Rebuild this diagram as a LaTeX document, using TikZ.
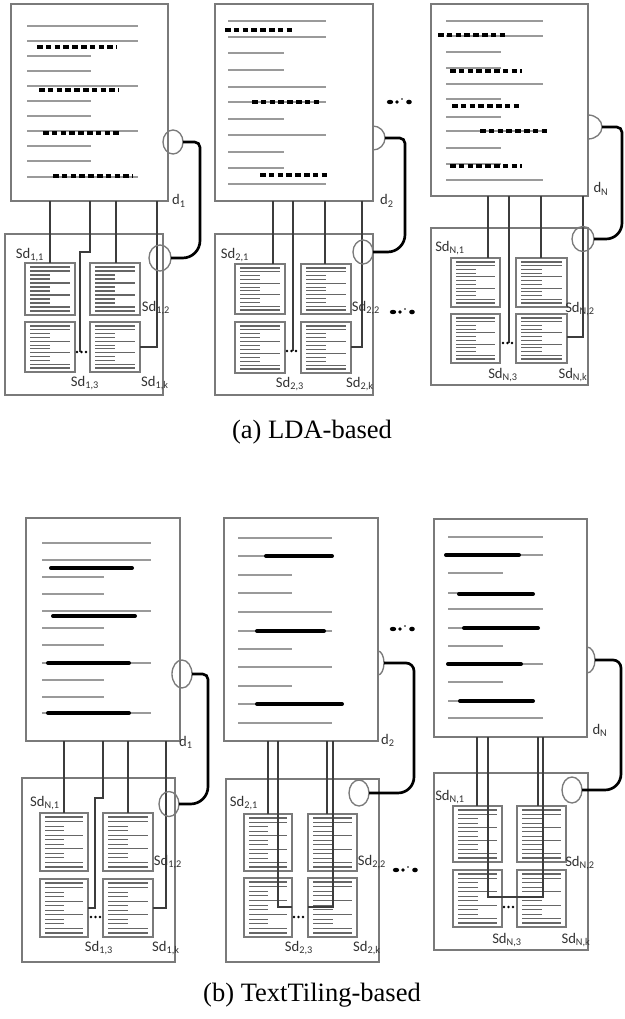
\documentclass[tikz,border=0pt]{standalone}
\usepackage{fontspec}
\setmainfont{Liberation Serif}
\newfontfamily\labfont{Carlito}
\definecolor{bord}{HTML}{7A7A7A}
\definecolor{txtl}{HTML}{9A9A9A}
\definecolor{connc}{HTML}{3C3C3C}
\definecolor{labc}{HTML}{333333}
\tikzset{
  docbox/.style={draw=bord, line width=1.1pt, fill=white},
  subbox/.style={draw=bord, line width=1.1pt},
  minibox/.style={draw=bord, line width=1.3pt},
  txt/.style={draw=txtl, line width=1.15pt},
  minil/.style={draw=gray!80!black, line width=0.85pt},
  dashrow/.style={draw=black, line width=2.4pt, dash pattern=on 4.2pt off 2.4pt},
  bar/.style={draw=black, line width=3pt, line cap=round},
  conn/.style={draw=connc, line width=0.8pt},
  link/.style={draw=black, line width=2pt},
  ring/.style={draw=bord, line width=1pt},
  lab/.style={text=labc, font=\labfont\fontsize{11}{13}\selectfont, inner sep=0pt},
  captext/.style={font=\fontsize{19.9}{24}\selectfont, inner sep=0pt}
}
\newcommand\minidoc[4]{%
  \draw[minibox] (#1,#2) rectangle (#3,#4);
  \foreach \k/\len in {0/1,1/1,2/0.5,3/0.5,4/1,5/0.5,6/0.5,7/1,8/0.5,9/0.5,10/1,11/1}{%
    \pgfmathsetmacro\yy{#2+4+\k*(#4-#2-8)/11}%
    \pgfmathsetmacro\xe{#1+5+\len*(#3-#1-10)}%
    \draw[minil] (#1+5,\yy) -- (\xe,\yy);
  }%
}
\newcommand\ellip[2]{%
  \fill (#1,#2) ellipse [x radius=3.2, y radius=2.2];
  \fill (#1+7,#2) circle [radius=1.9];
  \fill (#1+12,#2-3) circle [radius=0.8];
  \fill (#1+19,#2) ellipse [x radius=2.8, y radius=2.3];
}
\newcommand\tdots[2]{%
  \foreach \d in {0,4.5,9} \fill[black] (#1+\d,#2) circle [radius=1.3];
}
\newcommand\halfc[4]{\draw[ring] (#1,#2-#4) arc[start angle=-90,end angle=90,x radius=#3,y radius=#4];}
\begin{document}
\begin{tikzpicture}[x=0.75pt,y=-0.75pt]
\useasboundingbox[fill=white] (0,0) rectangle (624,1019);

%================ (a) column 1
\draw[docbox] (11,4) rectangle (168,201);
\foreach \y in {26,41,86,131,177} \draw[txt] (27,\y) -- (138,\y);
\foreach \y in {56,71,101,116,146,161} \draw[txt] (27,\y) -- (91,\y);
\draw[dashrow] (37,47) -- (117,47);
\draw[dashrow] (39,90) -- (119,90);
\draw[dashrow] (43,133) -- (122,133);
\draw[dashrow] (53,176) -- (133,176);
\node[lab] (da1) at (179,201) {d\textsubscript{1}};
\draw[subbox] (5,234) rectangle (163,395);
\minidoc{25}{263}{75}{315}
\minidoc{90}{263}{140}{315}
\minidoc{25}{322}{75}{372}
\minidoc{90}{322}{140}{372}
\draw[conn] (50,201) -- (50,263);
\draw[conn] (90,201) -- (90,252) -- (80,252) -- (80,352);
\draw[conn] (116,201) -- (116,263);
\draw[conn] (157,201) -- (157,347) -- (140,347);
\tdots{77}{352}
\draw[ring] (173,142) ellipse [x radius=10, y radius=12];
\draw[ring] (160,258) ellipse [x radius=11, y radius=13];
\draw[link] (183,142) [rounded corners=4pt] -- (200,142) [rounded corners=13pt] -- (200,258) -- (171,258);
\node[lab] at (30,255) {Sd\textsubscript{1,1}};
\node[lab] at (156,308) {Sd\textsubscript{1,2}};
\node[lab] at (85,383) {Sd\textsubscript{1,3}};
\node[lab] at (155,383) {Sd\textsubscript{1,k}};

%================ (a) column 2
\draw[docbox] (215,4) rectangle (373,201);
\foreach \y in {21,37,87,102,135,184} \draw[txt] (228,\y) -- (326,\y);
\foreach \y in {53,70,119,152,168} \draw[txt] (228,\y) -- (284,\y);
\draw[dashrow] (225,30) -- (295,30);
\draw[dashrow] (252,102) -- (320,102);
\draw[dashrow] (260,175) -- (330,175);
\node[lab] (da2) at (387,201) {d\textsubscript{2}};
\draw[subbox] (215,234) rectangle (373,395);
\minidoc{235}{264}{285}{314}
\minidoc{301}{264}{351}{314}
\minidoc{235}{322}{285}{373}
\minidoc{301}{322}{351}{373}
\draw[conn] (273,201) -- (273,264);
\draw[conn] (293,201) -- (293,351);
\draw[conn] (325,201) -- (325,264);
\draw[conn] (362,201) -- (362,347) -- (351,347);
\tdots{287}{351}
\halfc{373}{138}{12}{12}
\draw[ring] (363,252) ellipse [x radius=10, y radius=12];
\draw[link] (385,138) [rounded corners=4pt] -- (405,138) [rounded corners=13pt] -- (405,252) -- (373,252);
\node[lab] at (235,255) {Sd\textsubscript{2,1}};
\node[lab] at (366,308) {Sd\textsubscript{2,2}};
\node[lab] at (290,384) {Sd\textsubscript{2,3}};
\node[lab] at (360,384) {Sd\textsubscript{2,k}};
\ellip{390}{102}
\ellip{393}{312}

%================ (a) column N
\draw[docbox] (431,4) rectangle (588,196);
\foreach \y in {21,36,84,131,180} \draw[txt] (446,\y) -- (543,\y);
\foreach \y in {52,68,99,117,148,164} \draw[txt] (446,\y) -- (501,\y);
\draw[dashrow] (438,35) -- (508,35);
\draw[dashrow] (450,71) -- (522,71);
\draw[dashrow] (452,106) -- (522,106);
\draw[dashrow] (480,131) -- (548,131);
\draw[dashrow] (450,166) -- (522,166);
\node[lab] (daN) at (601,189) {d\textsubscript{N}};
\draw[subbox] (431,228) rectangle (588,385);
\minidoc{451}{258}{500}{307}
\minidoc{516}{258}{567}{307}
\minidoc{451}{314}{500}{363}
\minidoc{516}{314}{567}{363}
\draw[conn] (488,196) -- (488,258);
\draw[conn] (509,196) -- (509,343);
\draw[conn] (541,196) -- (541,258);
\draw[conn] (583,196) -- (583,337) -- (567,337);
\tdots{503}{343}
\halfc{588}{127}{14}{12}
\draw[ring] (583,239) ellipse [x radius=11, y radius=12.5];
\draw[link] (602,127) [rounded corners=4pt] -- (622,127) [rounded corners=12pt] -- (622,239) -- (594,239);
\node[lab] at (450,248) {Sd\textsubscript{N,1}};
\node[lab] at (580,309) {Sd\textsubscript{N,2}};
\node[lab] at (503,375) {Sd\textsubscript{N,3}};
\node[lab] at (573,375) {Sd\textsubscript{N,k}};

\node[captext] (capa) at (312,432) {(a) LDA-based};

%================ (b) column 1
\draw[docbox] (26,518) rectangle (180,741);
\foreach \y in {543,560,611,663,713} \draw[txt] (42,\y) -- (151,\y);
\foreach \y in {577,594,628,645,680,697} \draw[txt] (42,\y) -- (104,\y);
\draw[bar] (51,568) -- (132,568);
\draw[bar] (53,616) -- (135,616);
\draw[bar] (48,663) -- (129,663);
\draw[bar] (48,713) -- (129,713);
\node[lab] (db1) at (186,742) {d\textsubscript{1}};
\draw[subbox] (22,778) rectangle (175,962);
\minidoc{40}{813}{88}{871}
\minidoc{103}{813}{153}{871}
\minidoc{40}{879}{88}{937}
\minidoc{103}{879}{153}{937}
\draw[conn] (64,741) -- (64,813);
\draw[conn] (103,741) -- (103,798) -- (95,798) -- (95,908) -- (88,908);
\draw[conn] (128,741) -- (128,813);
\draw[conn] (166,741) -- (166,908) -- (153,908);
\tdots{91}{917}
\draw[ring] (182,674) ellipse [x radius=10, y radius=14];
\draw[ring] (169,804) ellipse [x radius=10, y radius=12.5];
\draw[link] (192,674) [rounded corners=4pt] -- (208,674) [rounded corners=13pt] -- (208,804) -- (179,804);
\node[lab] at (45,803) {Sd\textsubscript{N,1}};
\node[lab] at (168,862) {Sd\textsubscript{1,2}};
\node[lab] at (99,948) {Sd\textsubscript{1,3}};
\node[lab] at (166,948) {Sd\textsubscript{1,k}};

%================ (b) column 2
\draw[docbox] (224,518) rectangle (378,741);
\foreach \y in {538,556,612,631,667,704,723} \draw[txt] (238,\y) -- (332,\y);
\foreach \y in {575,593,649,686} \draw[txt] (238,\y) -- (292,\y);
\draw[bar] (266,556) -- (332,556);
\draw[bar] (257,631) -- (324,631);
\draw[bar] (257,704) -- (342,704);
\node[lab] (db2) at (388,740) {d\textsubscript{2}};
\draw[subbox] (226,779) rectangle (379,962);
\minidoc{244}{814}{292}{871}
\minidoc{308}{814}{357}{871}
\minidoc{244}{878}{292}{937}
\minidoc{308}{878}{357}{937}
\draw[conn] (268,741) -- (268,814);
\draw[conn] (278,741) -- (278,907) -- (292,907);
\draw[conn] (327,741) -- (327,814);
\draw[conn] (333,741) -- (333,907) -- (308,907);
\tdots{294}{917}
\halfc{378}{663}{6}{12}
\draw[ring] (359,793) ellipse [x radius=10, y radius=13];
\draw[link] (384,663) [rounded corners=6pt] -- (414,663) [rounded corners=12pt] -- (414,793) -- (369,793);
\node[lab] at (244,803) {Sd\textsubscript{2,1}};
\node[lab] at (372,862) {Sd\textsubscript{2,2}};
\node[lab] at (299,948) {Sd\textsubscript{2,3}};
\node[lab] at (367,948) {Sd\textsubscript{2,k}};
\ellip{393}{629}
\ellip{396}{870}

%================ (b) column N
\draw[docbox] (434,519) rectangle (587,737);
\foreach \y in {537,555,609,664,718} \draw[txt] (448,\y) -- (543,\y);
\foreach \y in {573,593,628,646,682,701} \draw[txt] (448,\y) -- (503,\y);
\draw[bar] (446,555) -- (519,555);
\draw[bar] (459,594) -- (533,594);
\draw[bar] (464,628) -- (538,628);
\draw[bar] (448,664) -- (521,664);
\draw[bar] (460,701) -- (533,701);
\node[lab] (dbN) at (600,730) {d\textsubscript{N}};
\draw[subbox] (434,773) rectangle (588,950);
\minidoc{453}{806}{502}{862}
\minidoc{517}{806}{566}{862}
\minidoc{453}{870}{502}{927}
\minidoc{517}{870}{566}{927}
\draw[conn] (477,737) -- (477,806);
\draw[conn] (488,737) -- (488,897) -- (543,897) -- (543,737);
\draw[conn] (538,737) -- (538,806);
\tdots{504}{907}
\halfc{587}{660}{8}{13}
\draw[ring] (572,790) ellipse [x radius=10, y radius=13];
\draw[link] (595,660) [rounded corners=6pt] -- (621,660) [rounded corners=12pt] -- (621,790) -- (582,790);
\node[lab] at (450,797) {Sd\textsubscript{N,1}};
\node[lab] at (580,863) {Sd\textsubscript{N,2}};
\node[lab] at (507,940) {Sd\textsubscript{N,3}};
\node[lab] at (576,940) {Sd\textsubscript{N,k}};

\node[captext] (capb) at (312,995) {(b) TextTiling-based};
\end{tikzpicture}
\end{document}
